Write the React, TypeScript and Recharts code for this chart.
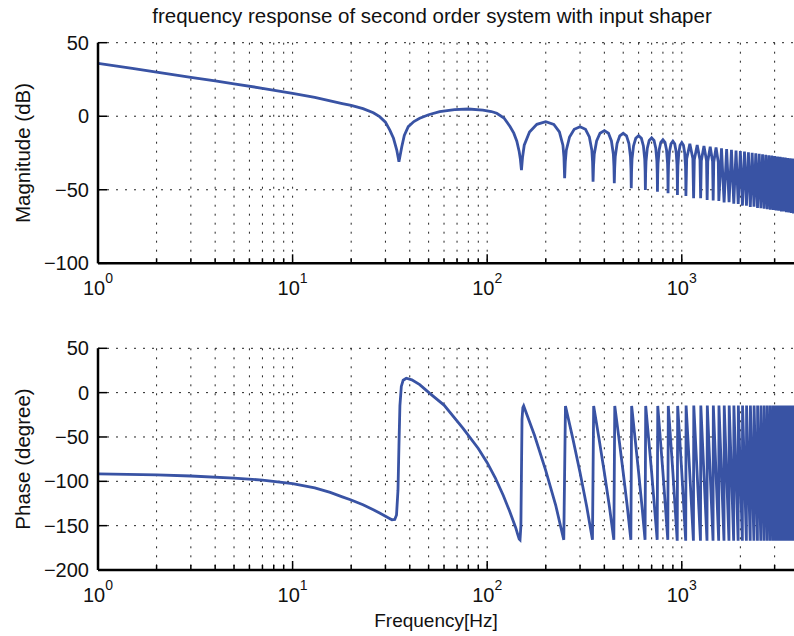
import React from "react";
import { LineChart, Line, XAxis, YAxis, CartesianGrid } from "recharts";

// magnitude trace (Hz, dB)
const magFreq = [
  1, 1.5, 2, 3, 4, 5, 7, 10, 13, 15.6, 18, 20, 23, 26, 28, 30, 31.6, 33, 34.3, 35.2,
  36.4, 37.5, 39.3, 42, 45, 50, 57, 68, 80, 95, 105, 112, 122, 131, 137, 142, 146, 148, 150,
  152, 155, 165, 180, 200, 220, 235, 245, 248, 250,
  252, 255, 265, 280, 300, 320, 335, 345, 348, 350,
  352, 355, 365, 380, 400, 420, 435, 445, 448, 450,
  452, 455, 465, 480, 500, 520, 535, 545, 548, 550,
  552, 555, 565, 580, 600, 620, 635, 645, 648, 650,
  652, 655, 665, 680, 700, 720, 735, 745, 748, 750,
  752, 755, 765, 780, 800, 820, 835, 845, 848, 850,
  852, 855, 865, 880, 900, 920, 935, 945, 948, 950,
  952, 955, 965, 980, 1000, 1020, 1035, 1045, 1048, 1050,
  1060, 1100, 1140, 1150,
  1160, 1200, 1240, 1250,
  1260, 1300, 1340, 1350,
  1360, 1400, 1440, 1450,
  1460, 1500, 1540, 1550,
  1600, 1650, 1700, 1750, 1800, 1850, 1900, 1950, 2000, 2050,
  2100, 2150, 2200, 2250, 2300, 2350, 2400, 2450, 2500, 2550,
  2600, 2650, 2700, 2750, 2800, 2850, 2900, 2950, 3000, 3050,
  3100, 3150, 3200, 3250, 3300, 3350, 3400, 3450, 3500, 3550,
  3600, 3650, 3700, 3750, 3800, 3850, 3900, 3950, 4000,
];
const magDb = [
  36, 32.5, 30, 26.5, 24, 22, 19, 15.6, 12.8, 10.4, 8.6, 7.4, 5.2, 2.4, -0.3, -4, -9.4, -15, -23, -31,
  -20.7, -13, -7.1, -3.6, -1.4, 1, 3.1, 4.5, 4.9, 4.2, 3.2, 2, -1.2, -7, -11.5, -17, -24, -29, -36.6,
  -27.7, -19.7, -10.7, -5.5, -3.7, -5.5, -10.7, -19.7, -27.7, -42.2,
  -31.1, -23.1, -14.1, -8.9, -7.1, -8.9, -14.1, -23.1, -31.1, -44.5,
  -33.8, -25.8, -16.8, -11.6, -9.8, -11.6, -16.8, -25.8, -33.8, -45.6,
  -35.6, -27.6, -18.6, -13.4, -11.6, -13.4, -18.6, -27.6, -35.6, -49,
  -37.2, -29.2, -20.2, -15, -13.2, -15, -20.2, -29.2, -37.2, -50.2,
  -38.7, -30.7, -21.7, -16.5, -14.7, -16.5, -21.7, -30.7, -38.7, -51.3,
  -40, -32, -23, -17.8, -16, -17.8, -23, -32, -40, -52.4,
  -41, -33, -24, -18.8, -17, -18.8, -24, -33, -41, -53.6,
  -42, -34, -25, -19.8, -18, -19.8, -25, -34, -42, -54.2,
  -28.8, -18.8, -28.8, -55.8,
  -29.5, -19.5, -29.5, -55.8,
  -30.2, -20.2, -30.2, -56.9,
  -30.8, -20.8, -30.8, -57.2,
  -31.3, -21.3, -31.3, -57.6,
  -21.9, -58.6, -22.4, -58.4, -22.8, -59.4, -23.3, -59.6, -23.7, -60.8,
  -24.1, -60.9, -24.5, -61.7, -24.9, -61.5, -25.2, -62.4, -25.6, -62.6,
  -25.9, -62.8, -26.2, -63.3, -26.5, -63.5, -26.8, -63.8, -27.1, -64.1,
  -27.4, -64.3, -27.6, -64.8, -27.9, -64.8, -28.1, -65.3, -28.4, -65.5,
  -28.6, -65.7, -28.8, -66.1, -29.0, -66.2, -29.2, -66.4, -29.4,
];

// phase trace (Hz, degree)
const phaseFreq = [
  1, 2, 3, 5, 7, 10, 13, 15.6, 18, 20, 23, 26, 28, 31, 32.4, 33.5, 34.2, 34.8, 35.2, 35.6, 36.2, 37,
  38.4, 41, 45, 50.7, 60, 75, 90, 100, 110, 121, 130, 140, 144, 146, 147.5, 149, 150, 151, 152.5, 154,
  175, 200, 225, 245, 247.5, 250, 252.5,
  275, 300, 325, 345, 347.5, 350, 352.5,
  375, 400, 425, 445, 447.5, 450, 452.5,
  475, 500, 525, 545, 547.5, 550, 552.5,
  575, 600, 625, 645, 647.5, 650, 652.5,
  700, 747.5, 752.5,
  800, 847.5, 852.5,
  900, 947.5, 952.5,
  1000, 1047.5, 1052.5,
  1147.5, 1152.5, 1247.5, 1252.5, 1347.5, 1352.5, 1447.5, 1452.5, 1547.5, 1552.5,
  1647.5, 1652.5, 1747.5, 1752.5, 1847.5, 1852.5, 1947.5, 1952.5, 2047.5, 2052.5,
  2147.5, 2152.5, 2247.5, 2252.5, 2347.5, 2352.5, 2447.5, 2452.5, 2547.5, 2552.5,
  2647.5, 2652.5, 2747.5, 2752.5, 2847.5, 2852.5, 2947.5, 2952.5, 3047.5, 3052.5,
  3147.5, 3152.5, 3247.5, 3252.5, 3347.5, 3352.5, 3447.5, 3452.5, 3547.5, 3552.5,
  3647.5, 3652.5, 3747.5, 3752.5, 3847.5, 3852.5, 3947.5, 3952.5, 4000,
];
const phaseDeg = [
  -91.5, -92.8, -94, -96.3, -98.6, -102.5, -107.5, -112.5, -117.5, -121, -126.5, -132, -135.8, -141, -143.3, -143, -138, -110, -60, -15, 7, 14,
  16.2, 14.5, 9, -0.8, -14, -40, -63, -79, -96, -116, -133, -152, -161, -165, -166, -150, -90, -30, -17, -15,
  -48, -88, -127, -162, -166, -90, -15,
  -51, -90, -129, -162, -166, -90, -15,
  -51, -90, -129, -162, -166, -90, -15,
  -51, -90, -129, -162, -166, -90, -15,
  -51, -90, -129, -162, -166, -90, -15,
  -90, -166, -15,
  -90, -166, -15,
  -90, -167, -15,
  -90, -167, -14.5,
  -167, -14.5, -167, -14.5, -167, -14.5, -167, -14.5, -167, -14.5,
  -167, -14.5, -167, -14.5, -167, -14.5, -167, -14.5, -167, -14.5,
  -167, -14.5, -167, -14.5, -167, -14.5, -167, -14.5, -167, -14.5,
  -167, -14.5, -167, -14.5, -167, -14.5, -167, -14.5, -167, -14.5,
  -167, -14.5, -167, -14.5, -167, -14.5, -167, -14.5, -167, -14.5,
  -167, -14.5, -167, -14.5, -167, -14.5, -167, -14.5, -22,
];

const freqTicks = [
  1, 2, 3, 4, 5, 6, 7, 8, 9, 10, 20, 30, 40, 50, 60, 70, 80, 90,
  100, 200, 300, 400, 500, 600, 700, 800, 900, 1000, 2000, 3000, 4000, 5000,
];
const magTicks = [-100, -50, 0, 50];
const phaseTicks = [-200, -150, -100, -50, 0, 50];

const magData = magFreq.map((f, i) => ({ f, v: magDb[i] }));
const phaseData = phaseFreq.map((f, i) => ({ f, v: phaseDeg[i] }));

const BLUE = "#3953a4";
const FONT = "'Liberation Sans', Arial, Helvetica, sans-serif";
const F_DOMAIN: [number, number] = [1, 5000];

function FreqTick(props: any) {
  const { x, y, payload, side } = props;
  const lg = Math.log10(payload.value);
  const exp = Math.round(lg);
  const major = Math.abs(lg - exp) < 1e-6;
  const dir = side === "top" ? 1 : -1;
  return (
    <g>
      <line x1={x} x2={x} y1={y} y2={y + dir * (major ? 9 : 5)} stroke="#000" strokeWidth={1.5} />
      {side !== "top" && major && (
        <text x={x} y={y + 32} textAnchor="middle" fontSize={20} fontFamily={FONT} fill="#111">
          10<tspan dy={-12} fontSize={14}>{exp}</tspan>
        </text>
      )}
    </g>
  );
}

function LevelTick(props: any) {
  const { x, y, payload } = props;
  const v = payload.value;
  const label = v < 0 ? "\u2212" + Math.abs(v) : String(v);
  return (
    <g>
      <line x1={x} x2={x + 9} y1={y} y2={y} stroke="#000" strokeWidth={1.5} />
      <text x={x - 9} y={y} dy={7} textAnchor="end" fontSize={20} fontFamily={FONT} fill="#111">
        {label}
      </text>
    </g>
  );
}

function BodePanel({ data, yDomain, yTicks, height, top, bottom }: any) {
  return (
    <LineChart
      width={830}
      height={height}
      data={data}
      margin={{ top, right: 12.2, bottom, left: 0 }}
      style={{ position: "absolute", left: 0, top: 0 }}
    >
      <CartesianGrid stroke="#222" strokeDasharray="2 7" strokeWidth={1} />
      <XAxis
        dataKey="f"
        type="number"
        scale="log"
        domain={F_DOMAIN}
        ticks={freqTicks}
        interval={0}
        allowDataOverflow
        tickSize={0}
        tickMargin={0}
        height={30}
        axisLine={{ stroke: "#000", strokeWidth: 2.5 }}
        tick={(p: any) => <FreqTick {...p} side="bottom" />}
      />
      <XAxis
        xAxisId="top"
        orientation="top"
        dataKey="f"
        type="number"
        scale="log"
        domain={F_DOMAIN}
        ticks={freqTicks}
        interval={0}
        allowDataOverflow
        tickSize={0}
        tickMargin={0}
        height={0}
        axisLine={{ stroke: "#000", strokeWidth: 2.5 }}
        tick={(p: any) => <FreqTick {...p} side="top" />}
      />
      <YAxis
        type="number"
        domain={yDomain}
        ticks={yTicks}
        interval={0}
        allowDataOverflow
        width={98}
        tickSize={0}
        tickMargin={0}
        axisLine={{ stroke: "#000", strokeWidth: 2.5 }}
        tick={(p: any) => <LevelTick {...p} />}
      />
      <Line
        type="linear"
        dataKey="v"
        stroke={BLUE}
        strokeWidth={2.8}
        dot={false}
        isAnimationActive={false}
      />
    </LineChart>
  );
}

export default function App() {
  return (
    <div
      style={{
        position: "absolute",
        left: 0,
        top: 0,
        width: 794,
        height: 636,
        overflow: "hidden",
        background: "#fff",
        fontFamily: FONT,
      }}
    >
      <BodePanel data={magData} yDomain={[-100, 50]} yTicks={magTicks} height={300} top={42.7} bottom={6.7} />
      <BodePanel data={phaseData} yDomain={[-200, 50]} yTicks={phaseTicks} height={636} top={348.3} bottom={36} />
      <svg width={794} height={636} style={{ position: "absolute", left: 0, top: 0, pointerEvents: "none" }}>
        <text x={432} y={23} textAnchor="middle" fontSize={20.5} fontFamily={FONT} fill="#111">
          frequency response of second order system with input shaper
        </text>
        <text transform="translate(30,153) rotate(-90)" textAnchor="middle" fontSize={20.5} fontFamily={FONT} fill="#111">
          Magnitude (dB)
        </text>
        <text transform="translate(30,459) rotate(-90)" textAnchor="middle" fontSize={20.5} fontFamily={FONT} fill="#111">
          Phase (degree)
        </text>
        <text x={436} y={627} textAnchor="middle" fontSize={19} fontFamily={FONT} fill="#111">
          Frequency[Hz]
        </text>
      </svg>
    </div>
  );
}
